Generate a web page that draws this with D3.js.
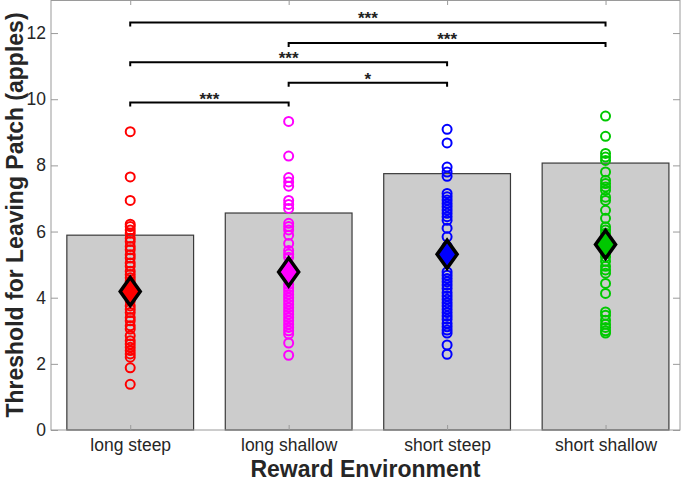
<!DOCTYPE html>
<html>
<head>
<meta charset="utf-8">
<script src="https://cdn.jsdelivr.net/npm/d3@7"></script>
<style>
  body { margin: 0; background: #fff; }
  svg { display: block; font-family: "Liberation Sans", Arial, sans-serif; }
</style>
</head>
<body>
<svg id="chart" width="685" height="487"></svg>
<script>
// chart values
const categories = ["long steep", "long shallow", "short steep", "short shallow"];
const colors = ["#ff0000", "#ff00ff", "#0000ff", "#00c800"];
const barHeights = [5.89, 6.56, 7.75, 8.07];
const means = [4.19, 4.78, 5.31, 5.61];
const yTicks = [0, 2, 4, 6, 8, 10, 12];

const longSteep = [9.02, 7.65, 6.94, 6.22, 6.15, 6.05, 5.95, 5.8, 5.7, 5.55, 5.45, 5.3, 5.2, 5.05, 4.95,
  4.8, 4.7, 4.6, 4.5, 4.35, 4.25, 4.1, 4.0, 3.9, 3.75, 3.65, 3.55, 3.4, 3.3, 3.15, 3.05, 2.85, 2.7,
  2.6, 2.5, 2.4, 2.3, 2.2, 1.88, 1.38];
const longShallow = [9.33, 8.28, 7.63, 7.5, 7.37, 6.94, 6.82, 6.7, 6.25, 6.15, 6.05, 5.89, 5.64, 5.43,
  5.32, 5.22, 5.0, 4.4, 4.3, 4.2, 4.1, 4.0, 3.9, 3.8, 3.7, 3.6, 3.5, 3.4, 3.3, 3.2, 3.1, 3.0, 2.9, 2.63, 2.26];
const shortSteep = [9.09, 8.68, 7.95, 7.8, 7.67, 7.15, 7.05, 6.95, 6.85, 6.75, 6.65, 6.55, 6.45, 6.34,
  6.1, 5.84, 5.55, 4.78, 4.68, 4.58, 4.48, 4.38, 4.28, 4.15, 4.05, 3.95, 3.85, 3.75, 3.65, 3.55, 3.45,
  3.35, 3.22, 3.12, 3.02, 2.93, 2.57, 2.29];
const shortShallow = [9.49, 8.88, 8.36, 8.25, 8.15, 7.8, 7.55, 7.45, 7.35, 7.25, 7.04, 6.94, 6.64, 6.4,
  6.14, 6.05, 5.95, 5.8, 5.5, 5.35, 5.23, 5.1, 4.95, 4.84, 4.74, 4.43, 4.13, 3.57, 3.47, 3.32, 3.2,
  3.1, 3.0, 2.93];
const groups = [longSteep, longShallow, shortSteep, shortShallow];

// significance brackets
const bracketFrom = [1, 2, 1, 2, 1];
const bracketTo = [4, 4, 3, 3, 2];
const bracketY = [12.32, 11.70, 11.12, 10.50, 9.90];
const bracketLabel = ["***", "***", "***", "*", "***"];

const plotLeft = 51, plotRight = 680, plotTop = 0, plotBottom = 430;

const svg = d3.select("#chart");
const x = d3.scaleLinear().domain([0.5, 4.47]).range([plotLeft, plotRight]);
const y = d3.scaleLinear().domain([0, 13]).range([plotBottom, plotTop]);
const bw = x(1.4) - x(1);

// bars
svg.append("g").selectAll("rect")
  .data(barHeights)
  .enter()
  .append("rect")
  .attr("x", (d, i) => x(i + 1) - bw)
  .attr("y", d => y(d))
  .attr("width", bw * 2)
  .attr("height", d => y(0) - y(d))
  .attr("fill", "#cccccc")
  .attr("stroke", "#3a3a3a")
  .attr("stroke-width", 1.2);

// individual points
groups.forEach((vals, i) => {
  svg.append("g").selectAll("circle")
    .data(vals)
    .enter()
    .append("circle")
    .attr("cx", x(i + 1))
    .attr("cy", d => y(d))
    .attr("r", 4.5)
    .attr("fill", "none")
    .attr("stroke", colors[i])
    .attr("stroke-width", 2);
});

// mean diamonds
svg.append("g").selectAll("path")
  .data(means)
  .enter()
  .append("path")
  .attr("transform", (d, i) => `translate(${x(i + 1)},${y(d)})`)
  .attr("d", "M0,-14L10,0L0,14L-10,0Z")
  .attr("fill", (d, i) => colors[i])
  .attr("stroke", "#000")
  .attr("stroke-width", 3.5)
  .attr("stroke-linejoin", "miter");

// axes
const axisColor = "#9a9a9a";
const textColor = "#262626";

const gy = svg.append("g")
  .attr("transform", `translate(${plotLeft},0)`)
  .call(d3.axisLeft(y).tickValues(yTicks).tickSize(-7).tickPadding(5));
const gx = svg.append("g")
  .attr("transform", `translate(0,${plotBottom})`)
  .call(d3.axisBottom(x).tickValues([1, 2, 3, 4]).tickFormat(i => categories[i - 1]).tickSize(-5).tickPadding(9));
const gt = svg.append("g")
  .attr("transform", `translate(0,${plotTop})`)
  .call(d3.axisTop(x).tickValues([1, 2, 3, 4]).tickFormat("").tickSize(-5));
const gr = svg.append("g")
  .attr("transform", `translate(${plotRight},0)`)
  .call(d3.axisRight(y).tickValues(yTicks).tickFormat("").tickSize(-7));

[gy, gx, gt, gr].forEach(g => {
  g.select(".domain").remove();
  g.selectAll("line").attr("stroke", axisColor);
  g.selectAll("text").attr("fill", textColor).style("font-size", "17.5px")
    .style("font-family", "'Liberation Sans', Arial, sans-serif");
});

svg.append("rect")
  .attr("x", plotLeft).attr("y", plotTop + 0.5)
  .attr("width", plotRight - plotLeft).attr("height", plotBottom - plotTop - 0.5)
  .attr("fill", "none")
  .attr("stroke", axisColor)
  .attr("stroke-width", 1);

// brackets
const tick = 4;
bracketY.forEach((v, i) => {
  const x1 = x(bracketFrom[i]), x2 = x(bracketTo[i]), yy = y(v);
  svg.append("path")
    .attr("d", `M${x1},${yy + tick}V${yy}H${x2}V${yy + tick}`)
    .attr("fill", "none")
    .attr("stroke", "#000")
    .attr("stroke-width", 2);
  svg.append("text")
    .attr("x", (x1 + x2) / 2)
    .attr("y", yy + 2)
    .attr("text-anchor", "middle")
    .style("font-size", "17px")
    .style("font-weight", "bold")
    .attr("fill", "#222")
    .text(bracketLabel[i]);
});

// axis titles
svg.append("text")
  .attr("x", (plotLeft + plotRight) / 2)
  .attr("y", 477)
  .attr("text-anchor", "middle")
  .style("font-size", "23px")
  .style("font-weight", "bold")
  .attr("fill", textColor)
  .text("Reward Environment");

svg.append("text")
  .attr("transform", `translate(23,${(plotTop + plotBottom) / 2}) rotate(-90)`)
  .attr("text-anchor", "middle")
  .style("font-size", "23px")
  .style("font-weight", "bold")
  .attr("fill", textColor)
  .text("Threshold for Leaving Patch (apples)");
</script>
</body>
</html>
